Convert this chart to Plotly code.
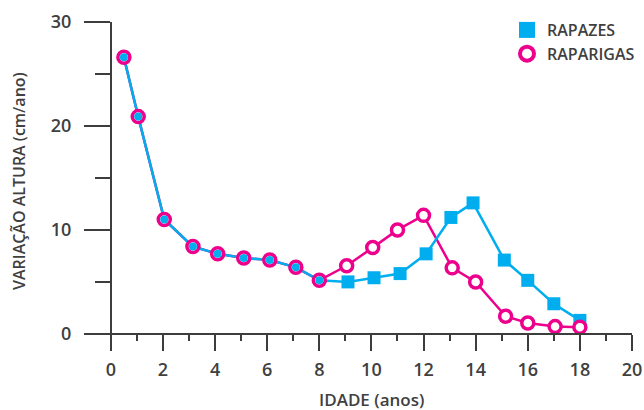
import plotly.graph_objects as go

# ---- data ----
ages_boys = [0.5, 1.05, 2.05, 3.15, 4.1, 5.1, 6.1, 7.1, 8.0, 9.1, 10.1, 11.1, 12.1, 13.05, 13.9, 15.1, 16.0, 17.0, 18.0]
boys = [26.6, 20.9, 11.0, 8.4, 7.7, 7.3, 7.1, 6.4, 5.15, 5.0, 5.4, 5.8, 7.7, 11.2, 12.6, 7.1, 5.15, 2.9, 1.3]
ages_girls = [0.5, 1.05, 2.05, 3.15, 4.1, 5.1, 6.1, 7.1, 8.0, 9.05, 10.05, 11.0, 12.0, 13.1, 14.0, 15.15, 16.0, 17.05, 18.0]
girls = [26.6, 20.9, 11.0, 8.4, 7.7, 7.3, 7.1, 6.4, 5.15, 6.55, 8.3, 10.0, 11.4, 6.35, 5.0, 1.7, 1.05, 0.7, 0.65]
n_shared = 9  # first points identical for both series

x_ticks = list(range(0, 21, 2))
y_ticks = [0, 10, 20, 30]

BLUE = "#00AEEF"
MAG = "#EC008C"
AX = "#3d3d3d"
FONT = "Open Sans"

fig = go.Figure()
# girls line (beneath)
fig.add_trace(go.Scatter(x=ages_girls, y=girls, mode="lines",
                         line=dict(color=MAG, width=2.5), showlegend=False, hoverinfo="skip"))
# boys line
fig.add_trace(go.Scatter(x=ages_boys, y=boys, mode="lines",
                         line=dict(color=BLUE, width=2.5), showlegend=False, hoverinfo="skip"))
# boys squares (non-shared points)
fig.add_trace(go.Scatter(x=ages_boys[n_shared:], y=boys[n_shared:], mode="markers", name="RAPAZES",
                         showlegend=False,
                         marker=dict(symbol="square", size=13, color=BLUE, line=dict(width=0))))
# girls circles
fig.add_trace(go.Scatter(x=ages_girls, y=girls, mode="markers", name="RAPARIGAS",
                         showlegend=False,
                         marker=dict(symbol="circle", size=12, color="white",
                                     line=dict(color=MAG, width=3.5))))
# blue centres at shared points
fig.add_trace(go.Scatter(x=ages_boys[:n_shared], y=boys[:n_shared], mode="markers",
                         marker=dict(symbol="circle", size=8, color=BLUE, line=dict(width=0)),
                         showlegend=False, hoverinfo="skip"))
# legend entries (larger symbols, as in the reference key)
fig.add_trace(go.Scatter(x=[None], y=[None], mode="markers", name="RAPAZES",
                         marker=dict(symbol="square", size=16, color=BLUE, line=dict(width=0))))
fig.add_trace(go.Scatter(x=[None], y=[None], mode="markers", name="RAPARIGAS",
                         marker=dict(symbol="circle", size=14, color="white",
                                     line=dict(color=MAG, width=4))))

tickfont = dict(family=FONT, size=18, color="#404040", weight=600)

fig.update_layout(
    width=644, height=410, autosize=False,
    margin=dict(l=90, r=12, t=22, b=60, autoexpand=False),
    plot_bgcolor="white", paper_bgcolor="white",
    xaxis=dict(range=[-0.8, 20], tickvals=x_ticks, ticks="outside", ticklen=16, tickwidth=2,
               tickcolor=AX, showline=True, linecolor=AX, linewidth=2, showgrid=False,
               zeroline=False, anchor="free", position=(350 - 334) / 328, automargin=False,
               tickfont=tickfont, ticklabelstandoff=3,
               minor=dict(dtick=1, tick0=0, ticks="outside", ticklen=6, tickwidth=2, tickcolor=AX)),
    yaxis=dict(range=[-1.55, 30], tickvals=y_ticks, ticks="outside", ticklen=26, tickwidth=2,
               tickcolor=AX, showline=True, linecolor=AX, linewidth=2, showgrid=False,
               zeroline=False, anchor="free", position=(111 - 90) / 542, automargin=False,
               tickfont=tickfont, ticklabelstandoff=9,
               minor=dict(dtick=5, tick0=0, ticks="outside", ticklen=15, tickwidth=2, tickcolor=AX)),
    legend=dict(x=(507 - 90) / 542, y=1 + (22 - 13) / 328,
                xanchor="left", yanchor="top",
                font=dict(family=FONT, size=16, color="#404040", weight=600),
                bgcolor="rgba(0,0,0,0)", traceorder="normal"),
    annotations=[
        dict(text="IDADE (anos)", xref="paper", yref="paper",
             x=(372 - 90) / 542, y=(350 - 399) / 328, xanchor="center", yanchor="middle",
             showarrow=False, font=dict(family=FONT, size=17, color="#404040", weight=600)),
        dict(text="VARIAÇÃO ALTURA (cm/ano)", xref="paper", yref="paper",
             x=(19 - 90) / 542, y=(350 - 181) / 328, xanchor="center", yanchor="middle",
             textangle=-90, showarrow=False,
             font=dict(family=FONT, size=16, color="#404040", weight=600)),
    ],
)

fig.write_html("out.html", config={"displayModeBar": False},
               post_script="document.body.style.margin='0';document.body.style.padding='0';")
